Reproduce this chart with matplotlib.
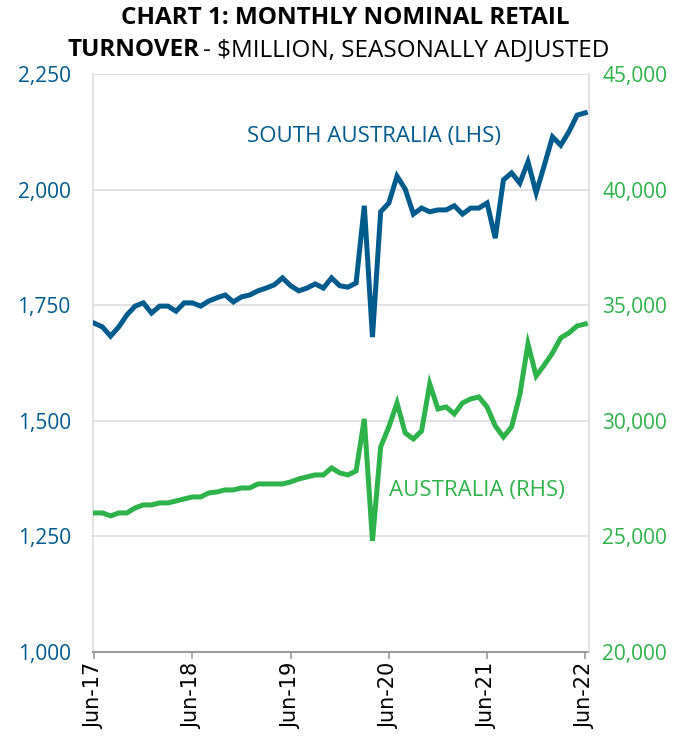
import matplotlib
matplotlib.use("Agg")
import matplotlib.pyplot as plt
import numpy as np

months = np.arange(61)  # Jun-17 .. Jun-22, monthly
tick_pos = [0, 12, 24, 36, 48, 60]
tick_labels = ["Jun-17", "Jun-18", "Jun-19", "Jun-20", "Jun-21", "Jun-22"]

sa = [1711, 1703, 1683, 1703, 1729, 1748, 1755, 1733, 1748, 1748,
      1737, 1755, 1755, 1748, 1759, 1766, 1772, 1757, 1768, 1772,
      1781, 1787, 1794, 1809, 1792, 1781, 1787, 1796, 1787, 1809,
      1792, 1789, 1798, 1965, 1681, 1952, 1971, 2029, 2001, 1947,
      1960, 1952, 1956, 1956, 1965, 1947, 1960, 1960, 1971, 1895,
      2021, 2036, 2014, 2060, 1993, 2053, 2114, 2096, 2125, 2161,
      2166]

aus = [26013, 26013, 25883, 26013, 26013, 26230, 26360, 26360, 26446, 26446,
       26532, 26619, 26705, 26705, 26878, 26921, 27008, 27008, 27094, 27094,
       27267, 27267, 27267, 27267, 27354, 27484, 27570, 27657, 27657, 27960,
       27743, 27657, 27830, 30079, 24802, 28868, 29733, 30771, 29473, 29214,
       29560, 31592, 30511, 30598, 30295, 30771, 30944, 31030, 30598, 29776,
       29300, 29733, 31117, 33322, 31938, 32414, 32933, 33582, 33798, 34101,
       34188]

blue = "#005B8D"
green = "#2DB34A"

plt.rcParams['font.family'] = ['Open Sans', 'DejaVu Sans']

fig = plt.figure(figsize=(6.96, 7.4), dpi=100)
ax = fig.add_axes([0.1336, 0.119, 0.712, 0.781])
ax2 = ax.twinx()

ax.plot(months, sa, color=blue, lw=3.6, solid_joinstyle='miter', zorder=3)
ax2.plot(months, aus, color=green, lw=3.6, solid_joinstyle='miter', zorder=3)

ax.set_xlim(-0.15, 60.4)
ax.set_ylim(1000, 2250)
ax2.set_ylim(20000, 45000)
ax.set_yticks([1000, 1250, 1500, 1750, 2000, 2250])
ax2.set_yticks([20000, 25000, 30000, 35000, 40000, 45000])
ax.set_yticklabels([f"{v:,}" for v in ax.get_yticks().astype(int)], color=blue, fontsize=15)
ax2.set_yticklabels([f"{v:,}" for v in ax2.get_yticks().astype(int)], color=green, fontsize=15)
ax.tick_params(axis='y', length=0, pad=16)
ax2.tick_params(axis='y', length=0, pad=10)

ax.set_xticks(tick_pos)
ax.set_xticklabels(tick_labels, rotation=90, fontsize=15, family='DejaVu Sans')
ax.tick_params(axis='x', length=5, color='#999999', width=1.2, pad=3)

ax.grid(axis='y', color='#DDDDDD', lw=1.2)
ax.set_axisbelow(True)
for a in (ax, ax2):
    for s in ('left', 'right', 'top', 'bottom'):
        a.spines[s].set_visible(False)
ax.spines['left'].set_visible(True)
ax.spines['left'].set_color('#DDDDDD')
ax.spines['left'].set_linewidth(1.2)
ax2.spines['right'].set_visible(True)
ax2.spines['right'].set_color('#DDDDDD')
ax2.spines['right'].set_linewidth(1.2)
ax.spines['bottom'].set_visible(True)
ax.spines['bottom'].set_color('#999999')
ax.spines['bottom'].set_linewidth(1.5)

ax.text(0.31, 0.892, "SOUTH AUSTRALIA (LHS)", transform=ax.transAxes,
        color=blue, fontsize=16, ha='left', va='center')
ax.text(0.597, 0.279, "AUSTRALIA (RHS)", transform=ax.transAxes,
        color=green, fontsize=16, ha='left', va='center')

fig.text(0.496, 0.975, "CHART 1: MONTHLY NOMINAL RETAIL", ha='center', va='center',
         fontsize=17.5, fontweight='bold', color='black')
fig.text(0.287, 0.932, "TURNOVER", ha='right', va='center',
         fontsize=17.5, fontweight='bold', color='black')
fig.text(0.292, 0.932, "- $MILLION, SEASONALLY ADJUSTED", ha='left', va='center',
         fontsize=17.5, color='black')

fig.savefig("out.png", dpi=100)
